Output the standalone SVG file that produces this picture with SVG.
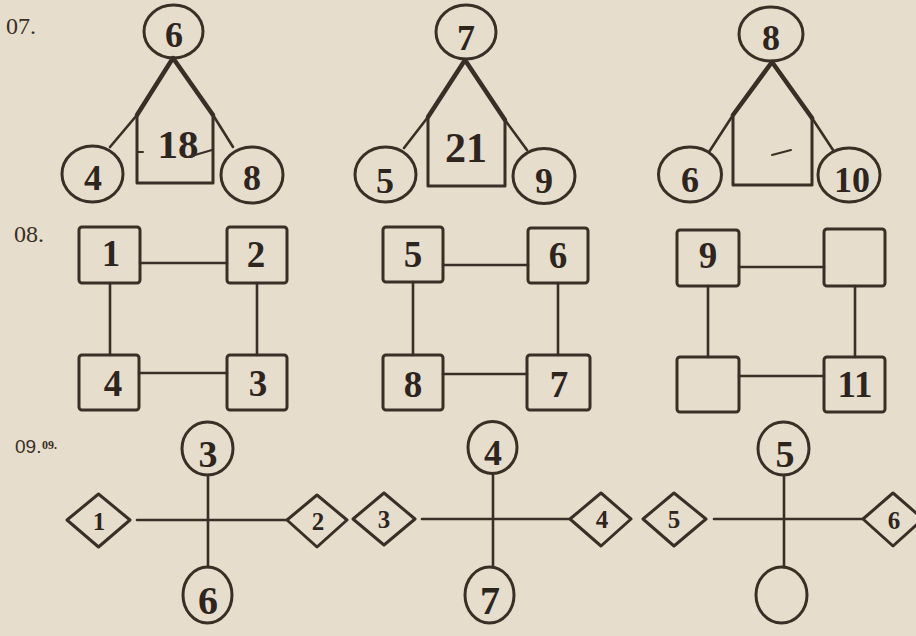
<svg xmlns="http://www.w3.org/2000/svg" width="916" height="636" viewBox="0 0 916 636">
<style>
.bg{fill:#e7ddcc}
.ink{fill:none;stroke:#3a2f26;stroke-width:3;stroke-linejoin:round;stroke-linecap:round}
.thick{fill:none;stroke:#3a2f26;stroke-width:4.5;stroke-linecap:round;stroke-linejoin:round}
.thin{fill:none;stroke:#3a2f26;stroke-width:2.6;stroke-linecap:round}
.n{font-family:"Liberation Serif","Times New Roman",serif;font-weight:bold;fill:#2e251e;text-anchor:middle}
.c{font-size:36px}
.s{font-size:37px}
.d{font-size:25px}
.lbl{font-family:"Liberation Serif",serif;fill:#3a2f26;font-size:24px}
.lbs{font-family:"Liberation Sans",Arial,sans-serif;fill:#3a2f26;font-size:19px}
</style>
<rect class="bg" width="916" height="636"/>

<!-- labels -->
<text class="lbl" x="6" y="34">07.</text>
<text class="lbl" x="14" y="242">08.</text>
<text class="lbs" x="15" y="453">09.</text>
<text class="lbl" x="42" y="449" style="font-size:12px;font-weight:bold">09.</text>

<g id="connectors">
  <!-- 07 panel 1 -->
  <polyline class="thick" points="137,115 173,58 213,115"/>
  <polyline class="thin" points="110,147 137,115"/>
  <polyline class="thin" points="213,115 233,147"/>
  <!-- 07 panel 2 -->
  <polyline class="thick" points="428,117 465,60 505,120"/>
  <polyline class="thin" points="404,148 428,117"/>
  <polyline class="thin" points="505,120 527,150"/>
  <!-- 07 panel 3 -->
  <polyline class="thick" points="733,115 772,62 812,118"/>
  <polyline class="thin" points="709,152 733,115"/>
  <polyline class="thin" points="812,118 833,150"/>
  <!-- 08 panel 1 -->
  <line class="thin" x1="140" y1="263" x2="227" y2="263"/>
  <line class="thin" x1="110" y1="283" x2="110" y2="355"/>
  <line class="thin" x1="257" y1="283" x2="257" y2="355"/>
  <line class="thin" x1="139" y1="373" x2="227" y2="373"/>
  <!-- 08 panel 2 -->
  <line class="thin" x1="443" y1="265" x2="528" y2="265"/>
  <line class="thin" x1="413" y1="282" x2="413" y2="355"/>
  <line class="thin" x1="558" y1="283" x2="558" y2="355"/>
  <line class="thin" x1="443" y1="374" x2="527" y2="374"/>
  <!-- 08 panel 3 -->
  <line class="thin" x1="739" y1="267" x2="824" y2="267"/>
  <line class="thin" x1="708" y1="286" x2="708" y2="357"/>
  <line class="thin" x1="855" y1="286" x2="855" y2="357"/>
  <line class="thin" x1="739" y1="376" x2="824" y2="376"/>
  <!-- 09 panel 1 -->
  <line class="thin" x1="137" y1="520" x2="287" y2="520"/>
  <line class="thin" x1="208" y1="475" x2="208" y2="567"/>
  <!-- 09 panel 2 -->
  <line class="thin" x1="422" y1="519" x2="570" y2="519"/>
  <line class="thin" x1="493" y1="473" x2="493" y2="567"/>
  <!-- 09 panel 3 -->
  <line class="thin" x1="714" y1="519" x2="863" y2="519"/>
  <line class="thin" x1="784" y1="475" x2="784" y2="567"/>
</g>

<!-- 07 panel 1 -->
<g id="p1-top"><ellipse class="ink" cx="173.5" cy="31.5" rx="29.5" ry="26.5"/><text class="n c" x="174" y="47">6</text></g>
<g id="p1-left"><ellipse class="ink" cx="92.5" cy="174" rx="30.5" ry="28"/><text class="n c" x="93" y="190">4</text></g>
<g id="p1-right"><ellipse class="ink" cx="252" cy="175" rx="31" ry="28"/><text class="n c" x="252" y="190">8</text></g>
<g id="p1-house"><polyline class="ink" points="137,115 137,183 213,183 213,115"/><text class="n" x="178" y="158" style="font-size:41px">18</text>
  <line class="thin" x1="138" y1="152" x2="143" y2="152" style="stroke-width:2"/>
  <line class="thin" x1="188" y1="157" x2="212" y2="150" style="stroke-width:2"/></g>

<!-- 07 panel 2 -->
<g id="p2-top"><ellipse class="ink" cx="466" cy="32" rx="30" ry="27"/><text class="n c" x="466" y="50">7</text></g>
<g id="p2-left"><ellipse class="ink" cx="385.5" cy="174.5" rx="30.5" ry="27.5"/><text class="n c" x="385" y="193">5</text></g>
<g id="p2-right"><ellipse class="ink" cx="544" cy="176" rx="31" ry="27.5"/><text class="n c" x="544" y="193">9</text></g>
<g id="p2-house"><polyline class="ink" points="428,117 428,186 505,186 505,120"/><text class="n" x="466" y="162" style="font-size:42px">21</text></g>

<!-- 07 panel 3 -->
<g id="p3-top"><ellipse class="ink" cx="771" cy="34" rx="32" ry="27"/><text class="n c" x="771" y="50">8</text></g>
<g id="p3-left"><ellipse class="ink" cx="690" cy="174.5" rx="31.5" ry="27.5"/><text class="n c" x="690" y="192">6</text></g>
<g id="p3-right"><ellipse class="ink" cx="849" cy="175" rx="31" ry="27"/><text class="n c" x="852" y="192">10</text></g>
<g id="p3-house"><polyline class="ink" points="733,115 733,185 812,185 812,118"/>
  <line class="thin" x1="772" y1="155" x2="791" y2="150" style="stroke-width:2"/></g>

<!-- 08 panel 1 -->
<g id="q1-a"><rect class="ink" x="79" y="227" width="61" height="56" rx="3"/><text class="n s" x="111" y="266">1</text></g>
<g id="q1-b"><rect class="ink" x="227" y="227" width="60" height="56" rx="3"/><text class="n s" x="256" y="267">2</text></g>
<g id="q1-c"><rect class="ink" x="227" y="355" width="60" height="55" rx="3"/><text class="n s" x="258" y="396">3</text></g>
<g id="q1-d"><rect class="ink" x="79" y="355" width="60" height="55" rx="3"/><text class="n s" x="113" y="396">4</text></g>

<!-- 08 panel 2 -->
<g id="q2-a"><rect class="ink" x="383" y="227" width="60" height="55" rx="3"/><text class="n s" x="413" y="267">5</text></g>
<g id="q2-b"><rect class="ink" x="528" y="228" width="60" height="55" rx="3"/><text class="n s" x="558" y="268">6</text></g>
<g id="q2-c"><rect class="ink" x="527" y="355" width="63" height="55" rx="3"/><text class="n s" x="559" y="397">7</text></g>
<g id="q2-d"><rect class="ink" x="383" y="355" width="60" height="55" rx="3"/><text class="n s" x="413" y="397">8</text></g>

<!-- 08 panel 3 -->
<g id="q3-a"><rect class="ink" x="677" y="230" width="62" height="56" rx="3"/><text class="n s" x="708" y="268">9</text></g>
<g id="q3-b"><rect class="ink" x="824" y="229" width="61" height="57" rx="3"/></g>
<g id="q3-c"><rect class="ink" x="824" y="357" width="61" height="55" rx="3"/><text class="n s" x="855" y="397">11</text></g>
<g id="q3-d"><rect class="ink" x="677" y="357" width="62" height="55" rx="3"/></g>

<!-- 09 panel 1 -->
<g id="r1-top"><ellipse class="ink" cx="207.5" cy="448.5" rx="25.5" ry="26.5"/><text class="n" x="208" y="467" style="font-size:38px">3</text></g>
<g id="r1-bottom"><ellipse class="ink" cx="207.5" cy="595" rx="24.5" ry="28"/><text class="n" x="208" y="614" style="font-size:40px">6</text></g>
<g id="r1-left"><polygon class="ink" points="67,520 98.5,494 130,520 98.5,547"/><text class="n d" x="99" y="530">1</text></g>
<g id="r1-right"><polygon class="ink" points="287,520 317,495 347,520 317,547"/><text class="n d" x="318" y="530">2</text></g>

<!-- 09 panel 2 -->
<g id="r2-top"><ellipse class="ink" cx="492.5" cy="447.5" rx="24.5" ry="26"/><text class="n c" x="493" y="465">4</text></g>
<g id="r2-bottom"><ellipse class="ink" cx="489.5" cy="595" rx="24.5" ry="28"/><text class="n" x="490" y="614" style="font-size:40px">7</text></g>
<g id="r2-left"><polygon class="ink" points="353,519 384,493 415,519 384,545"/><text class="n d" x="384" y="528">3</text></g>
<g id="r2-right"><polygon class="ink" points="570,519 601,493 631,519 601,546"/><text class="n d" x="602" y="528">4</text></g>

<!-- 09 panel 3 -->
<g id="r3-top"><ellipse class="ink" cx="783.5" cy="448.5" rx="25.5" ry="26.5"/><text class="n" x="785" y="467" style="font-size:38px">5</text></g>
<g id="r3-bottom"><ellipse class="ink" cx="781.5" cy="595" rx="25.5" ry="28"/></g>
<g id="r3-left"><polygon class="ink" points="643,519 674,493 706,519 674,546"/><text class="n d" x="674" y="528">5</text></g>
<g id="r3-right"><polygon class="ink" points="863,519 893,493 923,519 893,546"/><text class="n d" x="894" y="529">6</text></g>
</svg>
